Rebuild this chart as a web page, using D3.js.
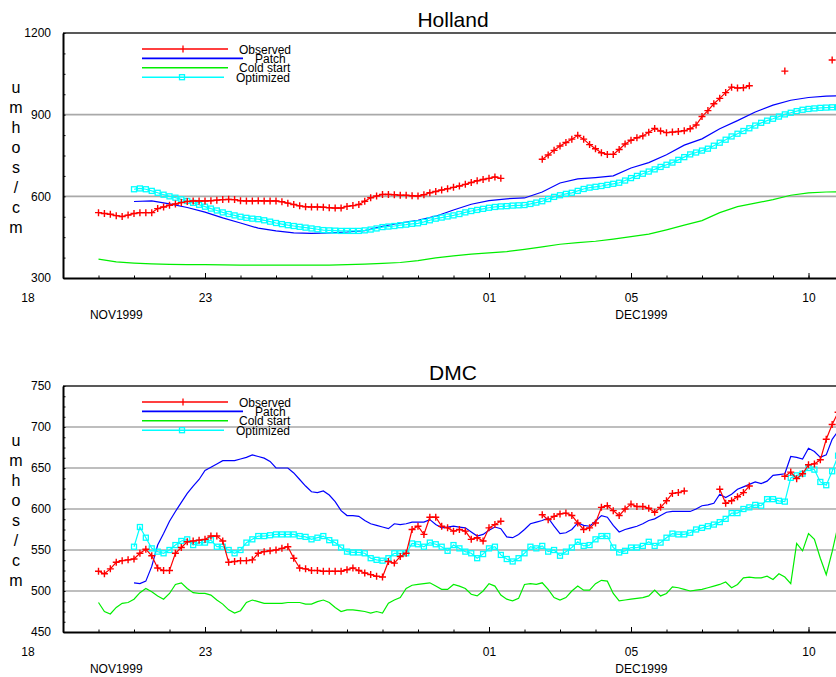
<!DOCTYPE html>
<html>
<head>
<meta charset="utf-8">
<script src="https://cdn.jsdelivr.net/npm/d3@7"></script>
<style>
  body { margin: 0; background: #fff; }
  svg { display: block; }
  text { font-family: "Liberation Sans", Arial, sans-serif; fill: #000; }
</style>
</head>
<body>
<svg id="chart" width="836" height="677"></svg>
<script>
// Conductivity (umhos/cm) at two stations, Nov 19 – Dec 11 1999.
// Each series is sampled at a fixed step (in days) from its start day,
// where day 0 = 18 Nov 1999 00:00 UTC. null = no reading.
const DAY_MS = 864e5;
const ORIGIN = Date.UTC(1999, 10, 18);
const FINE = 1 / 6;   // 4-hour readings
const COARSE = 0.5;   // 12-hour readings

// ---------- Holland ----------
const hollandObservedStart = 2;
const hollandObserved = [
  540, 537, 534, 529, 526, 531,
  537, 540, 540, 540, 555, 561,
  567, 572, 577, 581, 583, 583,
  583, 584, 586, 588, 589, 588,
  584, 583, 583, 584, 583, 583,
  583, 580, 575, 570, 565, 562,
  561, 561, 560, 558, 557, 557,
  563, 566, 570, 582, 595, 601,
  607, 607, 606, 604, 604, 602,
  601, 606, 613, 618, 623, 628,
  633, 638, 644, 651, 657, 662,
  666, 671, 666, null, null, null,
  null, null, null, 736, 752, 769,
  785, 798, 810, 824, 810, 790,
  775, 760, 754, 754, 772, 792,
  806, 815, 822, 835, 849, 840,
  834, 836, 838, 841, 848, 862,
  893, 915, 940, 960, 981, 1001,
  998, 999, 1006, null, null, null,
  null, null, 1060, null, null, null,
  null, null, null, null, 1101
];
const hollandPatchStart = 3;
const hollandPatch = [
  581, 583, 572, 559, 542, 521, 502, 483, 473, 466, 464, 466, 469, 474,
  490, 502, 512, 527, 550, 571, 584, 591, 594, 616, 649, 664, 669, 675,
  704, 724, 753, 788, 811, 848, 878, 910, 935, 953, 963, 968, 970
];
const hollandColdStart = 2;
const hollandCold = [
  369, 359, 355, 352, 350, 349, 349, 348, 347, 347, 347, 347, 347, 347,
  349, 351, 354, 357, 364, 374, 381, 388, 392, 397, 405, 414, 424, 430,
  435, 443, 452, 461, 477, 494, 511, 540, 562, 575, 588, 604, 613, 616, 617
];
const hollandOptimizedStart = 3;
const hollandOptimized = [
  626, 629, 626, 620, 613, 606,
  600, 595, 589, 583, 576, 569,
  562, 555, 548, 541, 535, 530,
  525, 521, 518, 516, 512, 507,
  502, 498, 494, 491, 488, 485,
  482, 479, 476, 475, 474, 473,
  473, 473, 473, 475, 478, 482,
  487, 489, 491, 494, 496, 499,
  501, 506, 512, 518, 522, 526,
  530, 535, 541, 546, 550, 554,
  558, 561, 563, 564, 566, 567,
  568, 572, 577, 582, 590, 598,
  604, 609, 613, 620, 627, 632,
  635, 638, 642, 646, 650, 658,
  667, 675, 683, 691, 699, 708,
  716, 724, 734, 744, 754, 761,
  768, 775, 786, 797, 808, 820,
  830, 840, 850, 860, 870, 878,
  885, 893, 901, 907, 913, 918,
  921, 923, 925, 926, 927, 927,
  928
];

// ---------- DMC ----------
const dmcObservedStart = 2;
const dmcObserved = [
  524, 521, 527, 535, 537, 538,
  539, 546, 551, 543, 528, 525,
  525, 546, 553, 560, 561, 562,
  563, 567, 567, 561, 535, 536,
  537, 537, 538, 546, 548, 549,
  550, 552, 554, 540, 528, 527,
  525, 525, 524, 524, 524, 524,
  526, 528, 525, 522, 520, 518,
  517, 536, 534, 542, 546, 575,
  579, 569, 590, 590, 579, 577,
  573, 575, 573, 563, 565, 561,
  577, 581, 585, null, null, null,
  null, null, null, 593, 587, 591,
  594, 595, 592, 583, 575, 577,
  583, 602, 604, 598, 592, 600,
  606, 603, 603, 601, 596, 602,
  610, 619, 620, 622, null, null,
  null, null, null, 624, 607, 610,
  615, 620, 628, null, null, null,
  null, null, 640, 645, 637, 643,
  654, 655, 660, 685, 703, 718
];
const dmcPatchStart = 3;
const dmcPatch = [
  510, 509, 512, 530, 556, 570,
  585, 597, 608, 619, 628, 636,
  647, 651, 655, 659, 659, 659,
  661, 663, 666, 664, 662, 658,
  650, 650, 650, 644, 636, 628,
  621, 620, 622, 617, 609, 598,
  592, 592, 591, 586, 582, 580,
  578, 576, 582, 581, 582, 584,
  584, 584, 587, 581, 577, 578,
  579, 578, 577, 572, 567, 569,
  574, 578, 576, 566, 565, 569,
  575, 582, 584, 586, 589, 579,
  570, 571, 575, 583, 580, 579,
  585, 592, 590, 580, 572, 575,
  577, 579, 582, 586, 588, 592,
  596, 597, 597, 597, 597, 600,
  604, 605, 607, 618, 614, 618,
  624, 627, 630, 633, 631, 634,
  641, 642, 643, 664, 663, 661,
  674, 670, 663, 666, 685, 695
];
const dmcColdStart = 2;
const dmcCold = [
  486, 475, 472, 480, 485, 486,
  490, 498, 503, 499, 494, 490,
  497, 508, 510, 503, 498, 497,
  497, 495, 489, 484, 477, 473,
  476, 486, 489, 487, 485, 485,
  485, 485, 486, 486, 486, 484,
  484, 487, 489, 486, 480, 475,
  477, 477, 476, 475, 473, 475,
  473, 485, 489, 492, 503, 507,
  508, 509, 510, 506, 502, 502,
  508, 506, 503, 496, 494, 500,
  509, 506, 495, 490, 488, 491,
  508, 509, 508, 510, 502, 492,
  489, 492, 500, 506, 501, 501,
  509, 513, 512, 497, 488, 489,
  490, 491, 492, 494, 501, 494,
  497, 505, 504, 502, 500, 501,
  502, 504, 506, 508, 511, 504,
  508, 516, 517, 516, 516, 518,
  514, 521, 517, 509, 558, 549,
  570, 563, 540, 520, 548, 580
];
const dmcOptimizedStart = 3;
const dmcOptimized = [
  554, 578, 565, 552, 548, 546,
  550, 556, 561, 563, 556, 559,
  559, 562, 554, 554, 550, 546,
  550, 559, 563, 567, 567, 568,
  569, 569, 569, 569, 567, 566,
  563, 565, 567, 562, 559, 553,
  548, 547, 547, 546, 540, 538,
  537, 540, 546, 546, 546, 558,
  557, 554, 559, 557, 554, 549,
  556, 552, 548, 546, 540, 545,
  552, 554, 544, 539, 536, 540,
  546, 554, 552, 555, 548, 550,
  543, 548, 553, 560, 555, 556,
  563, 567, 567, 553, 547, 549,
  553, 553, 555, 560, 555, 559,
  565, 570, 569, 569, 571, 575,
  577, 579, 581, 584, 588, 595,
  595, 600, 602, 605, 604, 612,
  612, 610, 609, 638, 641, 643,
  650, 648, 633, 629, 646, 665
];

// ---------- axis labels ----------
const dayTickDates = ["1999-11-18", "1999-11-23", "1999-12-01", "1999-12-05", "1999-12-10"];
const monthLabels = ["NOV1999", "DEC1999"];
const monthLabelDates = ["1999-11-20T12:00Z", "1999-12-05T07:00Z"];
const yTitleLetters = ["u", "m", "h", "o", "s", "/", "c", "m"];
const seriesNames = ["Observed", "Patch", "Cold start", "Optimized"];
const seriesColors = ["#ff0000", "#0000ff", "#00ee00", "#00ffff"];

// ---------- layout ----------
const W = 836;
const LEFT = 63;
const PX_PER_DAY = 35.5;
const svg = d3.select("#chart");

const x = d3.scaleUtc()
  .domain([new Date(ORIGIN + DAY_MS), new Date(ORIGIN + 23.5 * DAY_MS)])
  .range([LEFT, LEFT + 22.5 * PX_PER_DAY]);

function toPoints(values, start, step) {
  return values.map((v, i) => ({ date: new Date(ORIGIN + (start + i * step) * DAY_MS), v }));
}

function drawPanel(cfg) {
  const { top, bottom, domain, majors, minorStep, title, id } = cfg;
  const y = d3.scaleLinear().domain(domain).range([bottom, top]);
  const g = svg.append("g");

  g.append("clipPath").attr("id", id)
    .append("rect").attr("x", LEFT).attr("y", top).attr("width", W - LEFT).attr("height", bottom - top);

  // title
  g.append("text").attr("x", 453).attr("y", top - 6)
    .attr("text-anchor", "middle").style("font-size", "21px").text(title);

  // gridlines
  g.append("g").selectAll("line")
    .data(majors.slice(1, -1))
    .join("line")
    .attr("x1", LEFT).attr("x2", W)
    .attr("y1", d => y(d)).attr("y2", d => y(d))
    .attr("stroke", "#a9a9a9").attr("stroke-width", 1.6);

  // top frame line
  g.append("line").attr("x1", LEFT).attr("x2", W).attr("y1", top).attr("y2", top)
    .attr("stroke", "#222").attr("stroke-width", 1.6);

  // y axis: minor ticks, then major labels
  const yMinor = g.append("g").attr("transform", `translate(${LEFT},0)`)
    .call(d3.axisLeft(y).tickValues(d3.range(domain[0], domain[1] + 1e-9, minorStep))
      .tickSizeInner(-2.5).tickSizeOuter(0).tickFormat(""));
  yMinor.select(".domain").remove();
  yMinor.selectAll("line").attr("stroke", "#000");

  const yAxis = g.append("g").attr("transform", `translate(${LEFT},0)`)
    .call(d3.axisLeft(y).tickValues(majors).tickSize(0).tickPadding(12)
      .tickFormat(d3.format("d")));
  yAxis.select(".domain").attr("stroke", "#000").attr("stroke-width", 2);
  yAxis.selectAll("text").style("font-size", "12px").style("font-family", "'Liberation Sans', Arial, sans-serif");

  // y title, stacked letters
  g.append("g").selectAll("text")
    .data(yTitleLetters)
    .join("text")
    .attr("x", 16).attr("y", (d, i) => top + 60 + i * 20)
    .attr("text-anchor", "middle").style("font-size", "16px")
    .text(d => d);

  // x axis: daily minor ticks
  const xMinor = g.append("g").attr("transform", `translate(0,${bottom})`)
    .call(d3.axisBottom(x)
      .tickValues(d3.utcDay.range(new Date(ORIGIN + 2 * DAY_MS), new Date(ORIGIN + 23 * DAY_MS)))
      .tickSizeInner(-2.5).tickSizeOuter(0).tickFormat(""));
  xMinor.select(".domain").remove();
  xMinor.selectAll("line").attr("stroke", "#000");

  // x axis: labelled days
  const majorDates = dayTickDates.map(s => new Date(s + "T00:00Z"));
  const xAxis = g.append("g").attr("transform", `translate(0,${bottom})`)
    .call(d3.axisBottom(x).tickValues(majorDates)
      .tickSizeInner(-5).tickSizeOuter(0).tickPadding(15.5)
      .tickFormat(d3.utcFormat("%d")));
  xAxis.select(".domain").attr("stroke", "#000").attr("stroke-width", 2);
  xAxis.selectAll("line").attr("stroke", "#000");
  xAxis.selectAll(".tick").filter(d => x(d) < LEFT).select("line").remove();
  xAxis.selectAll("text").style("font-size", "12px").style("font-family", "'Liberation Sans', Arial, sans-serif");

  g.append("g").selectAll("text")
    .data(monthLabels)
    .join("text")
    .attr("x", (d, i) => x(new Date(monthLabelDates[i])))
    .attr("y", bottom + 41)
    .attr("text-anchor", "middle").style("font-size", "12px")
    .text(d => d);

  // series
  const plot = g.append("g").attr("clip-path", `url(#${id})`);
  const line = d3.line().defined(d => d.v !== null)
    .x(d => x(d.date)).y(d => y(d.v));

  const drawOrder = [
    { pts: cfg.cold, color: seriesColors[2] },
    { pts: cfg.patch, color: seriesColors[1] },
    { pts: cfg.optimized, color: seriesColors[3], marker: "square" },
    { pts: cfg.observed, color: seriesColors[0], marker: "plus" }
  ];
  drawOrder.forEach(s => {
    plot.append("path").datum(s.pts)
      .attr("fill", "none").attr("stroke", s.color).attr("stroke-width", 1.2)
      .attr("d", line);
    const valid = s.pts.filter(d => d.v !== null);
    if (s.marker === "plus") {
      plot.append("g").selectAll("path").data(valid).join("path")
        .attr("transform", d => `translate(${x(d.date)},${y(d.v)})`)
        .attr("d", "M-3.5,0H3.5M0,-3.5V3.5")
        .attr("stroke", s.color).attr("stroke-width", 1.4).attr("fill", "none");
    } else if (s.marker === "square") {
      plot.append("g").selectAll("rect").data(valid).join("rect")
        .attr("x", d => x(d.date) - 2.5).attr("y", d => y(d.v) - 2.5)
        .attr("width", 5).attr("height", 5)
        .attr("stroke", s.color).attr("stroke-width", 1.3).attr("fill", "none");
    }
  });

  // legend (rows sit close together, labels slightly overlapping)
  const lg = g.append("g").attr("transform", `translate(0,${top + 16})`);
  const legendRows = [
    { x2: 228, tx: 239, marker: "plus" },
    { x2: 243, tx: 255 },
    { x2: 228, tx: 239 },
    { x2: 224, tx: 236, marker: "square" }
  ];
  legendRows.forEach((r, i) => {
    const ly = i * 9.4;
    lg.append("line").attr("x1", 142).attr("x2", r.x2).attr("y1", ly).attr("y2", ly)
      .attr("stroke", seriesColors[i]).attr("stroke-width", 1.6);
    if (r.marker === "plus") {
      lg.append("path").attr("d", `M183,${ly - 3.5}V${ly + 3.5}`)
        .attr("stroke", seriesColors[i]).attr("stroke-width", 1.3);
    } else if (r.marker === "square") {
      lg.append("rect").attr("x", 179.5).attr("y", ly - 2.5).attr("width", 5).attr("height", 5)
        .attr("stroke", seriesColors[i]).attr("stroke-width", 1.3).attr("fill", "none");
    }
    lg.append("text").attr("x", r.tx).attr("y", ly + 4.5)
      .style("font-size", "12px").text(seriesNames[i]);
  });
}

drawPanel({
  id: "clip-holland", title: "Holland",
  top: 33, bottom: 278, domain: [300, 1200], majors: [300, 600, 900, 1200], minorStep: 75,
  observed: toPoints(hollandObserved, hollandObservedStart, FINE),
  patch: toPoints(hollandPatch, hollandPatchStart, COARSE),
  cold: toPoints(hollandCold, hollandColdStart, COARSE),
  optimized: toPoints(hollandOptimized, hollandOptimizedStart, FINE)
});

drawPanel({
  id: "clip-dmc", title: "DMC",
  top: 386, bottom: 632, domain: [450, 750], majors: [450, 500, 550, 600, 650, 700, 750], minorStep: 12.5,
  observed: toPoints(dmcObserved, dmcObservedStart, FINE),
  patch: toPoints(dmcPatch, dmcPatchStart, FINE),
  cold: toPoints(dmcCold, dmcColdStart, FINE),
  optimized: toPoints(dmcOptimized, dmcOptimizedStart, FINE)
});
</script>
</body>
</html>
